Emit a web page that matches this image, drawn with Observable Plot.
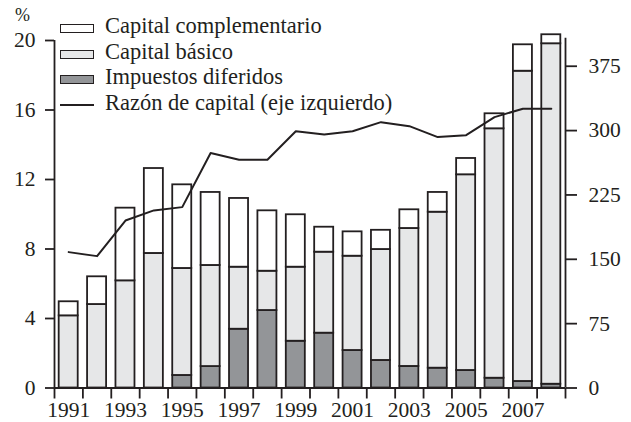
<!DOCTYPE html>
<html>
<head>
<meta charset="utf-8">
<script src="https://cdn.jsdelivr.net/npm/d3@7"></script>
<script src="https://cdn.jsdelivr.net/npm/@observablehq/plot@0.6"></script>
<style>
  html, body { margin: 0; padding: 0; background: white; }
  #wrap { position: relative; width: 631px; height: 422px; font-family: "Liberation Serif", "Times New Roman", Times, "DejaVu Serif", serif; color: #231f20; }
  #legend { position: absolute; left: 60px; top: 16px; }
  .row { display: flex; align-items: center; height: 25.5px; }
  .sw { width: 34px; height: 9px; box-sizing: border-box; border: 1.5px solid #231f20; margin-right: 11px; flex: none; }
  .ln { width: 34px; height: 2px; background: #231f20; margin-right: 11px; flex: none; }
  .lbl { font-size: 22.5px; line-height: 25.5px; position: relative; top: -3px; white-space: nowrap; }
  #unit { position: absolute; left: 15px; top: 6px; font-size: 18px; line-height: 18px; }
</style>
</head>
<body>
<div id="wrap">
  <div id="chart"></div>
  <div id="unit">%</div>
  <div id="legend"></div>
</div>
<script>
// ---- data ----
const years = [1991,1992,1993,1994,1995,1996,1997,1998,1999,2000,2001,2002,2003,2004,2005,2006,2007,2008];
// right axis units
const impuestosDiferidos = [0,0,0,0,14.6,25,68.5,90.3,54.5,63.9,43.7,32.1,25.1,23.1,20.4,11.4,7.6,4.4];
const capitalBasico = [84.1,97.3,124.9,156.8,124.7,117.8,72.3,45.8,86.3,94.4,109.9,129.3,160.8,181.8,228.1,290.7,361.6,396.8];
const capitalComplementario = [16.4,32.3,84.7,99,97.5,85.1,80.1,70.4,61.1,29.1,28.4,22.4,21.8,23,19,17.5,30.8,10.5];
// left axis, percent
const razonCapital = [7.82,7.59,9.64,10.22,10.41,13.52,13.14,13.14,14.78,14.59,14.78,15.3,15.07,14.44,14.55,15.59,16.07,16.07];
const leftTicks = [0,4,8,12,16,20];
const rightTicks = [0,75,150,225,300,375];
const yearLabels = [1991,1993,1995,1997,1999,2001,2003,2005,2007];
const seriesNames = ["Capital complementario","Capital básico","Impuestos diferidos","Razón de capital (eje izquierdo)"];
const seriesFills = {"Impuestos diferidos":"#939598","Capital básico":"#e6e7e8","Capital complementario":"#ffffff"};

// ---- derived tables ----
const K = 20.25; // right-axis units per percentage point
const segs = [];
years.forEach((yr, i) => {
  const a = impuestosDiferidos[i], b = capitalBasico[i], c = capitalComplementario[i];
  segs.push({year: yr, s: "Impuestos diferidos", y1: 0, y2: a});
  segs.push({year: yr, s: "Capital básico", y1: a, y2: a + b});
  segs.push({year: yr, s: "Capital complementario", y1: a + b, y2: a + b + c});
});
const lineData = years.map((yr, i) => ({year: yr, v: razonCapital[i] * K}));
const edges = d3.range(years[0] - 0.5, years[years.length - 1] + 1, 1);
const xMin = edges[0], xMax = edges[edges.length - 1];
const ink = "#231f20";
const half = 0.335;

const chart = Plot.plot({
  width: 631,
  height: 422,
  marginLeft: 54,
  marginRight: 66,
  marginTop: 40,
  marginBottom: 34.5,
  x: {type: "linear", domain: [xMin, xMax]},
  y: {domain: [0, 20 * K]},
  style: {fontFamily: "'Liberation Serif', 'Times New Roman', Times, 'DejaVu Serif', serif", fontSize: "21.5px", color: ink, background: "white", overflow: "visible"},
  marks: [
    Plot.rectY(segs.filter(d => d.y2 > d.y1), {
      x1: d => d.year - half, x2: d => d.year + half, y1: "y1", y2: "y2",
      fill: d => seriesFills[d.s], stroke: ink, strokeWidth: 1.8
    }),
    Plot.line(lineData, {x: "year", y: "v", stroke: ink, strokeWidth: 2}),
    Plot.ruleY([0], {x1: () => xMin, x2: () => xMax, stroke: ink, strokeWidth: 1.8}),
    Plot.ruleX([xMin], {y1: () => 0, y2: () => 20 * K, stroke: ink, strokeWidth: 1.8}),
    Plot.ruleX([xMax], {y1: () => 0, y2: () => 407.5, stroke: ink, strokeWidth: 1.8}),
    Plot.axisY({anchor: "left", ticks: leftTicks.map(p => p * K), tickFormat: v => String(Math.round(v / K)),
      tickSize: 9, tickPadding: 10, strokeWidth: 1.8, label: null}),
    Plot.axisY({anchor: "right", ticks: rightTicks, tickFormat: v => String(v),
      tickSize: 11, tickPadding: 12, strokeWidth: 1.8, label: null}),
    Plot.axisX({ticks: edges, tickFormat: () => "", tickSize: 11, strokeWidth: 1.8, label: null}),
    Plot.axisX({ticks: yearLabels, tickFormat: d => String(d), tickSize: 0, tickPadding: 13.5, label: null})
  ]
});
document.getElementById("chart").appendChild(chart);

// ---- legend ----
const legend = document.getElementById("legend");
seriesNames.forEach(name => {
  const row = document.createElement("div");
  row.className = "row";
  const sw = document.createElement("div");
  if (seriesFills[name]) { sw.className = "sw"; sw.style.background = seriesFills[name]; }
  else { sw.className = "ln"; }
  const t = document.createElement("span");
  t.className = "lbl";
  t.textContent = name;
  row.appendChild(sw);
  row.appendChild(t);
  legend.appendChild(row);
});
</script>
</body>
</html>
